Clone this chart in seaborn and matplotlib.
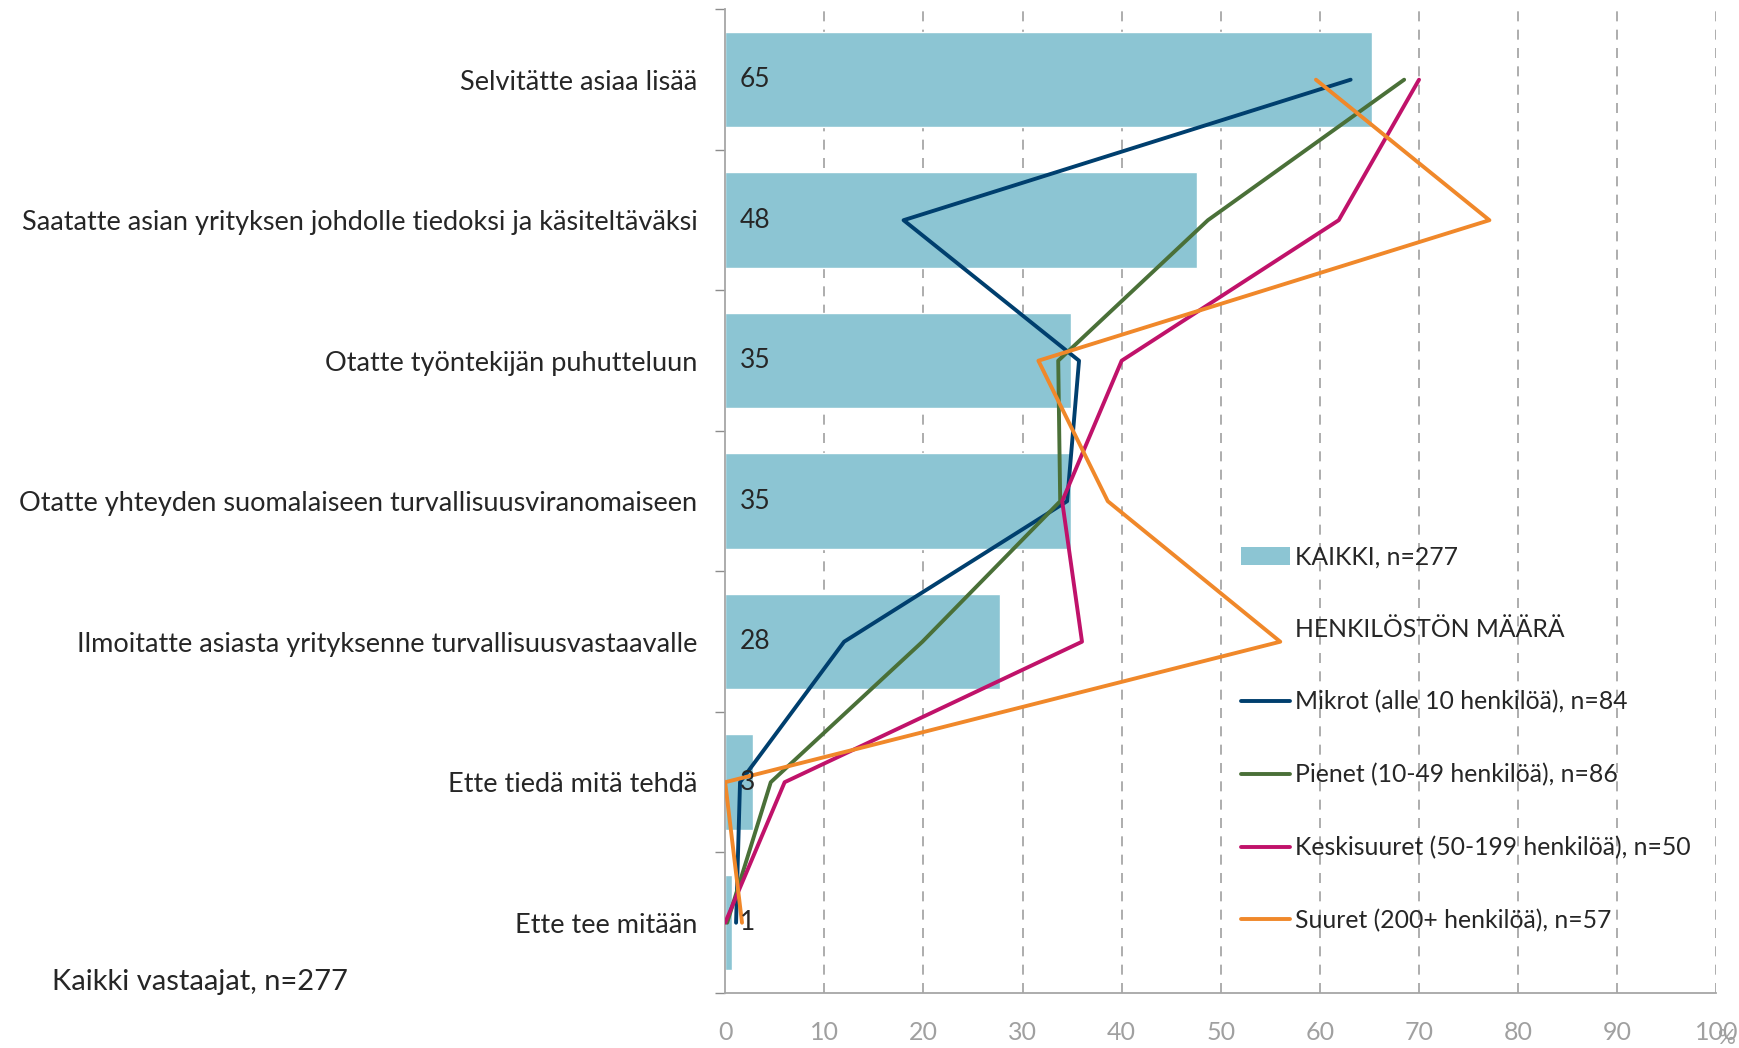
import numpy as np
import pandas as pd
import matplotlib
matplotlib.use("Agg")
import matplotlib.pyplot as plt
import seaborn as sns
from matplotlib.lines import Line2D
from matplotlib.patches import Patch

categories = [
    "Selvitätte asiaa lisää",
    "Saatatte asian yrityksen johdolle tiedoksi ja käsiteltäväksi",
    "Otatte työntekijän puhutteluun",
    "Otatte yhteyden suomalaiseen turvallisuusviranomaiseen",
    "Ilmoitatte asiasta yrityksenne turvallisuusvastaavalle",
    "Ette tiedä mitä tehdä",
    "Ette tee mitään",
]
kaikki = [65.3, 47.6, 34.9, 34.9, 27.7, 2.8, 0.7]
mikrot = [63.1, 18.0, 35.7, 34.5, 12.0, 1.5, 1.1]
pienet = [68.5, 48.7, 33.6, 33.8, 19.9, 4.6, 0.2]
keskisuuret = [70.0, 61.9, 40.0, 34.0, 36.0, 6.0, 0.0]
suuret = [59.6, 77.1, 31.6, 38.6, 56.0, 0.0, 1.7]

bar_label = "KAIKKI, n=277"
group_title = "HENKILÖSTÖN MÄÄRÄ"
series_names = [
    "Mikrot (alle 10 henkilöä), n=84",
    "Pienet (10-49 henkilöä), n=86",
    "Keskisuuret (50-199 henkilöä), n=50",
    "Suuret (200+ henkilöä), n=57",
]
series_values = [mikrot, pienet, keskisuuret, suuret]
series_colors = ["#003f6e", "#4a7038", "#c0126a", "#f0882a"]
bar_color = "#8cc5d3"
xticks = list(range(0, 101, 10))
footnote = "Kaikki vastaajat, n=277"

sns.set_theme(style="white")
plt.rcParams['font.family'] = ['Lato', 'DejaVu Sans']

fig = plt.figure(figsize=(17.39, 10.48), dpi=100)
ax = fig.add_axes([0.417, 0.0525, 0.570, 0.9385])

pos = np.arange(len(categories))
df_bar = pd.DataFrame({"cat": categories, "val": kaikki})
sns.barplot(data=df_bar, x="val", y="cat", orient="h", color=bar_color,
            saturation=1, width=0.68, ax=ax, zorder=2)

long_rows = []
for name, vals in zip(series_names, series_values):
    for p, v in zip(pos, vals):
        long_rows.append({"series": name, "pos": p, "val": v})
df_lines = pd.DataFrame(long_rows)
sns.lineplot(data=df_lines, x="val", y="pos", hue="series", palette=series_colors,
             hue_order=series_names, orient="y", sort=False, estimator=None,
             linewidth=2.8, ax=ax, legend=False, zorder=3)

# value labels inside bars
for p, v in zip(pos, kaikki):
    ax.text(1.5, p, f"{round(v)}", va="center", ha="left", fontsize=19,
            color="#262626", zorder=4)

ax.set_xlim(0, 100)
ax.set_ylim(len(categories) - 0.5, -0.5)
ax.set_xticks(xticks)
ax.set_xticklabels([str(t) for t in xticks], color="#a0a0a0", fontsize=18)
ax.set_yticks(pos)
ax.set_yticklabels(categories, fontsize=19.5, color="#262626")
ax.set_yticks(np.arange(-0.5, len(categories) + 0.5, 1), minor=True)
ax.tick_params(axis="y", which="major", length=0, pad=20)
ax.tick_params(axis="y", which="minor", length=7, width=1, color="#8c8c8c", left=True, direction="out")
ax.tick_params(axis="x", which="major", length=0, pad=20)
ax.set_xlabel("")
ax.set_ylabel("")

for t in xticks[1:]:
    ax.axvline(t, color="#a0a0a0", linestyle=(0, (6, 5)), linewidth=1.2, zorder=1)

for side in ["top", "right"]:
    ax.spines[side].set_visible(False)
for side in ["left", "bottom"]:
    ax.spines[side].set_color("#a6a6a6")
    ax.spines[side].set_linewidth(1.3)

handles = [Patch(facecolor=bar_color, edgecolor="none"),
           Line2D([], [], color="none")]
handles += [Line2D([], [], color=c, linewidth=2.8) for c in series_colors]
labels = [bar_label, group_title] + series_names
leg = ax.legend(handles, labels, loc="upper left", bbox_to_anchor=(0.51, 0.465),
                frameon=False, fontsize=17.8, labelspacing=2.0, handlelength=2.0,
                handletextpad=0.2, borderaxespad=0)
for txt in leg.get_texts():
    txt.set_color("#262626")

fig.text(0.030, 0.063, footnote, fontsize=21, color="#262626", ha="left", va="center")
fig.text(0.998, 0.0, "%", fontsize=16, color="#a0a0a0", ha="right", va="bottom")

fig.savefig("out.png", dpi=100)
